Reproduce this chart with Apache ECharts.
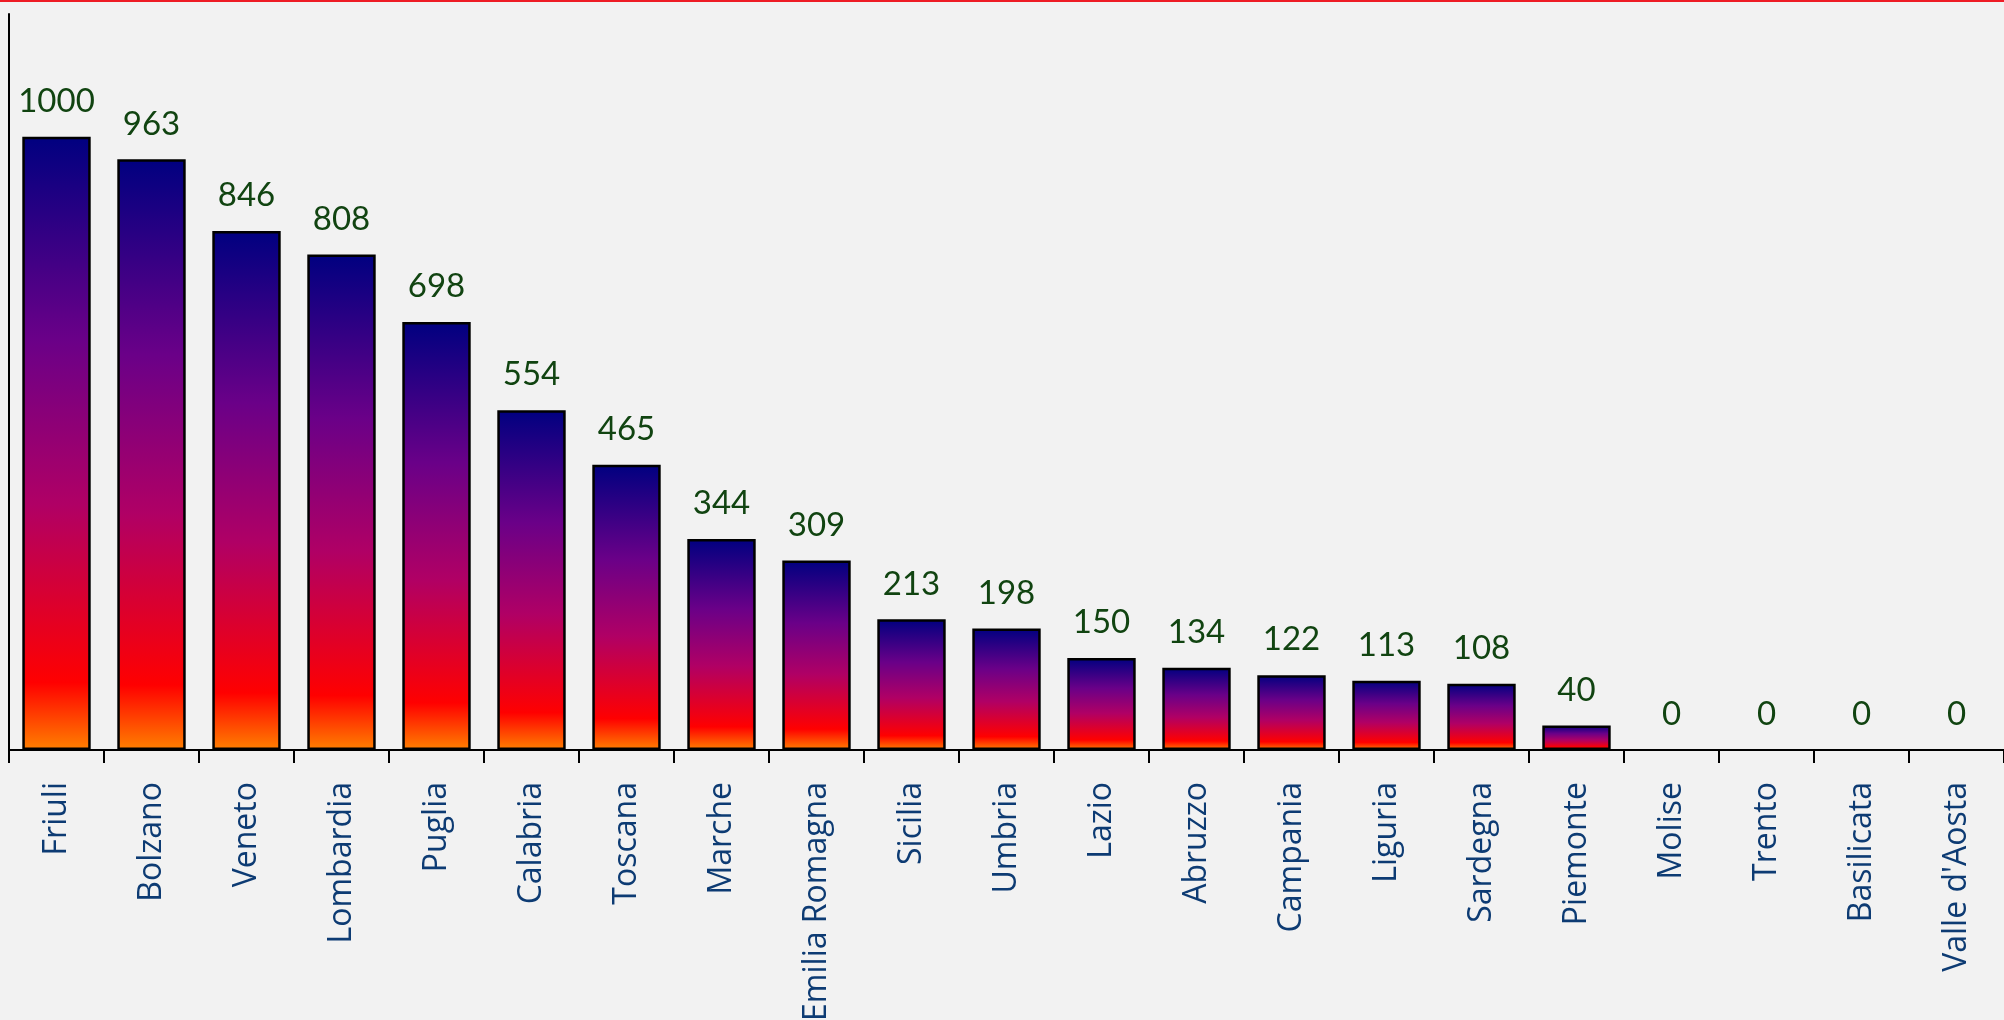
<!DOCTYPE html>
<html>
<head>
<meta charset="utf-8">
<script src="https://cdn.jsdelivr.net/npm/echarts@6/dist/echarts.min.js"></script>
<style>
html,body{margin:0;padding:0;background:#F2F2F2;}
#chart{width:2004px;height:1020px;}
</style>
</head>
<body>
<div id="chart"></div>
<script>
const categories = ['Friuli','Bolzano','Veneto','Lombardia','Puglia','Calabria','Toscana','Marche','Emilia Romagna','Sicilia','Umbria','Lazio','Abruzzo','Campania','Liguria','Sardegna','Piemonte','Molise','Trento','Basilicata',"Valle d'Aosta"];
const values = [1000,963,846,808,698,554,465,344,309,213,198,150,134,122,113,108,40,0,0,0,0];

const chart = echarts.init(document.getElementById('chart'), null, {renderer:'canvas'});
const grad = new echarts.graphic.LinearGradient(0,0,0,1,[
  {offset:0, color:'#000080'},
  {offset:0.33, color:'#6A0088'},
  {offset:0.6, color:'#B00065'},
  {offset:0.89, color:'#FF0000'},
  {offset:1, color:'#FF8000'}
]);
const barData = values.map(v => v === 0 ? {value:v, itemStyle:{borderWidth:0}} : v);
chart.setOption({
  backgroundColor:'#F2F2F2',
  animation:false,
  graphic:[{type:'rect',left:0,top:0,shape:{width:2004,height:2},style:{fill:'#EE1C25'}}],
  grid:{left:9,right:0,top:14,bottom:270,containLabel:false,outerBoundsMode:'none'},
  xAxis:{
    type:'category',
    data:categories,
    z:5,
    axisLine:{show:true,lineStyle:{color:'#000',width:2}},
    axisTick:{show:true,length:13,lineStyle:{color:'#000',width:2}},
    axisLabel:{rotate:90,interval:0,margin:32,color:'#0D3B73',fontFamily:'Open Sans',fontSize:32}
  },
  yAxis:{
    type:'value',min:0,max:1200,
    axisLine:{show:true,lineStyle:{color:'#000',width:2}},
    axisTick:{show:false},axisLabel:{show:false},splitLine:{show:false}
  },
  series:[{
    type:'bar',
    data:barData,
    barCategoryGap:'28%',
    itemStyle:{color:grad,borderColor:'#000',borderWidth:2.5},
    label:{show:true,position:'top',distance:19,color:'#114411',fontFamily:'Lato',fontSize:33}
  }]
});
</script>
</body>
</html>
